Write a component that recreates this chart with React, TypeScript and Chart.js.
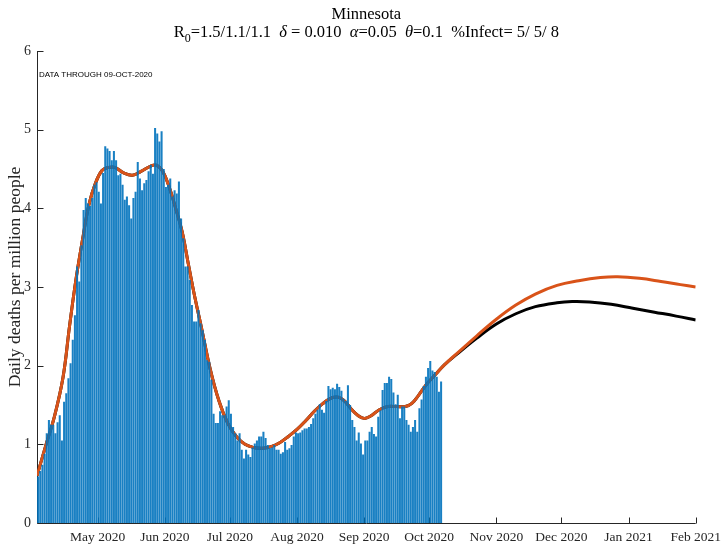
import React, { useEffect, useRef } from 'react';
import { Chart, registerables } from 'chart.js';

Chart.register(...registerables);

// ---------------- data ----------------
const START_DATE = '2020-04-03'; // first daily bar
const END_DATE = '2021-02-01'; // right end of the x axis

// Daily deaths per million people, one value per day from START_DATE
const dailyDeaths = [
  0.59, 0.66, 0.74, 0.88, 1.14, 1.31, 1.25, 1.25, 1.14, 1.28,
  1.37, 1.05, 1.54, 1.65, 1.84, 2.03, 2.33, 2.64, 3.26, 3.07,
  3.53, 3.98, 4.13, 4.06, 4.03, 4.13, 4.30, 4.33, 4.21, 4.06,
  4.45, 4.79, 4.76, 4.73, 4.61, 4.73, 4.61, 4.42, 4.44, 4.30,
  4.11, 4.15, 4.04, 3.87, 4.13, 4.21, 4.59, 4.38, 4.23, 4.32,
  4.36, 4.47, 4.55, 4.44, 5.02, 4.95, 4.85, 4.98, 4.50, 4.27,
  4.30, 4.38, 4.15, 4.23, 4.19, 4.34, 3.87, 3.62, 3.26, 3.26,
  3.09, 2.77, 2.56, 2.56, 2.71, 2.54, 2.45, 2.33, 2.07, 2.05,
  1.82, 1.39, 1.27, 1.27, 1.42, 1.37, 1.37, 1.48, 1.56, 1.39,
  1.22, 1.14, 1.05, 1.14, 0.93, 0.82, 0.93, 0.87, 0.84, 0.96,
  1.01, 1.05, 1.10, 1.10, 1.16, 1.08, 0.99, 0.95, 0.96, 0.99,
  0.93, 0.93, 0.88, 0.90, 1.03, 0.93, 0.95, 0.99, 1.10, 1.15,
  1.14, 1.15, 1.18, 1.20, 1.20, 1.22, 1.26, 1.33, 1.39, 1.44,
  1.51, 1.44, 1.40, 1.55, 1.74, 1.70, 1.72, 1.70, 1.77, 1.73,
  1.68, 1.58, 1.55, 1.75, 1.50, 1.31, 1.22, 1.05, 1.15, 1.01,
  0.87, 1.05, 1.05, 1.16, 1.22, 1.13, 1.10, 1.35, 1.43, 1.69,
  1.78, 1.78, 1.86, 1.83, 1.66, 1.51, 1.63, 1.33, 1.48, 1.48,
  1.31, 1.25, 1.16, 1.22, 1.31, 1.16, 1.46, 1.57, 1.74, 1.86,
  1.97, 2.06, 1.94, 1.92, 1.86, 1.67, 1.80,
];

// Model curves: sample day (days after START_DATE) and value
const orangeDays = [
  0, 4, 8, 12, 15, 18, 21, 24, 27, 30, 33, 36, 40, 44, 48, 52, 55, 58, 61, 64,
  67, 70, 73, 76, 80, 84, 88, 92, 96, 100, 104, 108, 112, 116, 120, 124, 128,
  132, 136, 139, 142, 145, 148, 151, 154, 158, 162, 166, 170, 173, 176, 180,
  184, 188, 194, 203, 212, 221, 230, 240, 250, 260, 268, 278, 288, 297, 304,
];
const orangeValues = [
  0.60, 0.98, 1.35, 1.85, 2.50, 3.10, 3.60, 4.05, 4.32, 4.48, 4.52, 4.52, 4.45,
  4.42, 4.47, 4.53, 4.55, 4.47, 4.27, 4.00, 3.70, 3.27, 2.85, 2.47, 1.95, 1.55,
  1.27, 1.10, 1.00, 0.96, 0.95, 0.97, 1.02, 1.10, 1.19, 1.30, 1.42, 1.52, 1.59,
  1.60, 1.55, 1.45, 1.37, 1.33, 1.36, 1.44, 1.48, 1.48, 1.48, 1.52, 1.62, 1.77,
  1.89, 2.01, 2.16, 2.38, 2.59, 2.77, 2.91, 3.02, 3.08, 3.12, 3.13, 3.11, 3.07,
  3.03, 3.00,
];
const blackDays = [
  0, 4, 8, 12, 15, 18, 21, 24, 27, 30, 33, 36, 40, 44, 48, 52, 55, 58, 61, 64,
  67, 70, 73, 76, 80, 84, 88, 92, 96, 100, 104, 108, 112, 116, 120, 124, 128,
  132, 136, 139, 142, 145, 148, 151, 154, 158, 162, 166, 170, 173, 176, 180,
  184, 188, 194, 203, 212, 221, 230, 240, 247, 255, 265, 275, 285, 295, 304,
];
const blackValues = [
  0.60, 0.98, 1.35, 1.85, 2.50, 3.10, 3.60, 4.05, 4.32, 4.48, 4.52, 4.52, 4.45,
  4.42, 4.47, 4.53, 4.55, 4.47, 4.27, 4.00, 3.70, 3.27, 2.85, 2.47, 1.95, 1.55,
  1.27, 1.10, 1.00, 0.96, 0.95, 0.97, 1.02, 1.10, 1.19, 1.30, 1.42, 1.52, 1.59,
  1.60, 1.55, 1.45, 1.37, 1.33, 1.36, 1.44, 1.48, 1.48, 1.48, 1.52, 1.62, 1.77,
  1.89, 2.01, 2.15, 2.35, 2.53, 2.66, 2.75, 2.80, 2.815, 2.81, 2.78, 2.73, 2.68,
  2.63, 2.58,
];

const tickDates = [
  '2020-05-01', '2020-06-01', '2020-07-01', '2020-08-01', '2020-09-01',
  '2020-10-01', '2020-11-01', '2020-12-01', '2021-01-01', '2021-02-01',
];
const tickLabels = [
  'May 2020', 'Jun 2020', 'Jul 2020', 'Aug 2020', 'Sep 2020',
  'Oct 2020', 'Nov 2020', 'Dec 2020', 'Jan 2021', 'Feb 2021',
];
const yTickValues = [0, 1, 2, 3, 4, 5, 6];

const TITLE = 'Minnesota';
const NOTE = 'DATA THROUGH 09-OCT-2020';
const Y_LABEL = 'Daily deaths per million people';

// ---------------- helpers ----------------
const dayOf = (iso: string) =>
  Math.round((Date.parse(iso + 'T00:00:00Z') - Date.parse(START_DATE + 'T00:00:00Z')) / 86400000);
const tickDays = tickDates.map(dayOf);
const xMax = dayOf(END_DATE);

const SERIF = '"Liberation Serif", "Times New Roman", serif';
const SANS = '"Liberation Sans", Arial, sans-serif';
const AXIS_COLOR = '#262626';
const TF = 16.5; // title font size

const decorPlugin = {
  id: 'decor',
  beforeDatasetsDraw(chart: any) {
    const { ctx, chartArea: a, scales } = chart;
    const x = scales.x;
    const y = scales.y;
    ctx.save();
    ctx.strokeStyle = AXIS_COLOR;
    ctx.lineWidth = 1;
    const L = Math.round(a.left) + 0.5;
    const B = Math.round(a.bottom) + 0.5;
    ctx.beginPath();
    ctx.moveTo(L, a.top);
    ctx.lineTo(L, B);
    ctx.lineTo(a.right, B);
    for (const v of yTickValues) {
      const py = Math.round(y.getPixelForValue(v)) + 0.5;
      ctx.moveTo(L, py);
      ctx.lineTo(L + 6, py);
    }
    for (const d of tickDays) {
      const px = Math.round(x.getPixelForValue(d)) + 0.5;
      ctx.moveTo(px, B);
      ctx.lineTo(px, B - 6);
    }
    ctx.stroke();
    ctx.restore();
  },
  afterDraw(chart: any) {
    const { ctx, chartArea: a } = chart;
    const cx = (a.left + a.right) / 2;
    ctx.save();
    ctx.fillStyle = '#000';
    ctx.textBaseline = 'alphabetic';

    // title
    ctx.font = `${TF}px ${SERIF}`;
    ctx.textAlign = 'center';
    ctx.fillText(TITLE, cx, 19);

    // subtitle with subscript and italic greek letters
    const segs = [
      { t: 'R', f: `${TF}px ${SERIF}`, dy: 0 },
      { t: '0', f: `12px ${SERIF}`, dy: 5 },
      { t: '=1.5/1.1/1.1  ', f: `${TF}px ${SERIF}`, dy: 0 },
      { t: 'δ', f: `italic ${TF}px ${SERIF}`, dy: 0 },
      { t: ' = 0.010  ', f: `${TF}px ${SERIF}`, dy: 0 },
      { t: 'α', f: `italic ${TF}px ${SERIF}`, dy: 0 },
      { t: '=0.05  ', f: `${TF}px ${SERIF}`, dy: 0 },
      { t: 'θ', f: `italic ${TF}px ${SERIF}`, dy: 0 },
      { t: '=0.1  %Infect= 5/ 5/ 8', f: `${TF}px ${SERIF}`, dy: 0 },
    ];
    let total = 0;
    const widths = segs.map((s) => {
      ctx.font = s.f;
      const w = ctx.measureText(s.t).width;
      total += w;
      return w;
    });
    let sx = cx - total / 2;
    ctx.textAlign = 'left';
    segs.forEach((s, i) => {
      ctx.font = s.f;
      ctx.fillText(s.t, sx, 37 + s.dy);
      sx += widths[i];
    });

    // note
    ctx.font = `8px ${SANS}`;
    ctx.fillStyle = '#000';
    ctx.fillText(NOTE, a.left + 2, 77);

    // y label
    ctx.save();
    ctx.translate(15, (a.top + a.bottom) / 2 - 10);
    ctx.rotate(-Math.PI / 2);
    ctx.textAlign = 'center';
    ctx.textBaseline = 'middle';
    ctx.font = `17.5px ${SERIF}`;
    ctx.fillStyle = AXIS_COLOR;
    ctx.fillText(Y_LABEL, 0, 0);
    ctx.restore();

    ctx.restore();
  },
};

export default function App() {
  const canvasRef = useRef<HTMLCanvasElement | null>(null);

  useEffect(() => {
    const canvas = canvasRef.current;
    if (!canvas) return;

    const barData = dailyDeaths.map((v, i) => ({ x: i + 0.5, y: v }));
    const orangeData = orangeDays.map((d, i) => ({ x: d, y: orangeValues[i] }));
    const blackData = blackDays.map((d, i) => ({ x: d, y: blackValues[i] }));

    const chart = new Chart(canvas, {
      type: 'bar',
      data: {
        datasets: [
          {
            type: 'bar',
            data: barData,
            backgroundColor: 'rgba(0,114,189,0.9)',
            borderWidth: 0,
            barPercentage: 0.94,
            categoryPercentage: 1,
            order: 0,
          } as any,
          {
            type: 'line',
            data: orangeData,
            borderColor: '#D95319',
            borderWidth: 3,
            pointRadius: 0,
            tension: 0.4,
            fill: false,
            order: 1,
          } as any,
          {
            type: 'line',
            data: blackData,
            borderColor: '#000000',
            borderWidth: 3,
            pointRadius: 0,
            tension: 0.4,
            fill: false,
            order: 2,
          } as any,
        ],
      },
      options: {
        responsive: false,
        animation: false,
        events: [],
        layout: { padding: { left: 0, right: 29, top: 51, bottom: 0 } },
        plugins: {
          legend: { display: false },
          tooltip: { enabled: false },
          title: { display: false },
        },
        scales: {
          x: {
            type: 'linear',
            min: 0,
            max: xMax,
            offset: false,
            grid: { display: false, drawTicks: false },
            border: { display: false },
            afterBuildTicks: (scale: any) => {
              scale.ticks = tickDays.map((v) => ({ value: v }));
            },
            afterFit: (scale: any) => {
              scale.height = 23;
            },
            ticks: {
              autoSkip: false,
              maxRotation: 0,
              padding: 6,
              color: AXIS_COLOR,
              font: { family: SERIF, size: 13.5 },
              callback: (_v: any, i: number) => tickLabels[i],
            },
          },
          y: {
            type: 'linear',
            min: 0,
            max: 6,
            grid: { display: false, drawTicks: false },
            border: { display: false },
            afterBuildTicks: (scale: any) => {
              scale.ticks = yTickValues.map((v) => ({ value: v }));
            },
            afterFit: (scale: any) => {
              scale.width = 37;
            },
            ticks: {
              padding: 6,
              color: AXIS_COLOR,
              font: { family: SERIF, size: 14 },
              callback: (v: any) => String(v),
            },
          },
        },
      },
      plugins: [decorPlugin],
    });

    return () => chart.destroy();
  }, []);

  return (
    <div style={{ position: 'absolute', left: 0, top: 0, width: 727, height: 546, background: '#fff' }}>
      <canvas ref={canvasRef} width={727} height={546} style={{ display: 'block' }} />
    </div>
  );
}
